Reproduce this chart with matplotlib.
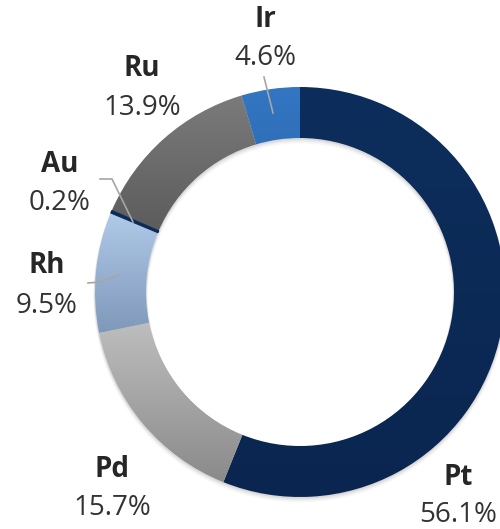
import numpy as np
import matplotlib
matplotlib.use("Agg")
import matplotlib.pyplot as plt
from matplotlib.colors import to_rgb

# ---- data ----
metals = ["Pt", "Pd", "Rh", "Au", "Ru", "Ir"]
shares = [56.1, 15.7, 9.5, 0.2, 13.9, 4.6]
pct_labels = ["56.1%", "15.7%", "9.5%", "0.2%", "13.9%", "4.6%"]

# ---- style ----
grad_top = ["#0d2e5c", "#c8c8c8", "#b0cae9", "#0b2a55", "#7b7b7b", "#3376c2"]
grad_bot = ["#0a2650", "#8a8a8a", "#7f98ba", "#0b2a55", "#4e4e4e", "#2a5ea4"]

W, H = 500, 529
fig = plt.figure(figsize=(W / 100, H / 100), dpi=100)
ax = fig.add_axes([0, 0, 1, 1])
ax.set_xlim(0, W)
ax.set_ylim(0, H)
ax.set_aspect("equal")
ax.axis("off")

cx, cy = 300, H - 292
R, ring = 205, 51

# soft shadow
for k, a in [(6, 0.03), (4, 0.05), (2, 0.07)]:
    ax.pie([1], radius=R + k * 0.3, center=(cx, cy - k * 0.6), colors=["#000000"],
           wedgeprops=dict(width=ring + k * 0.6, alpha=a, linewidth=0))

wedges, _ = ax.pie(shares, radius=R, center=(cx, cy), startangle=90,
                   counterclock=False, colors=grad_top,
                   wedgeprops=dict(width=ring, linewidth=0))

for w, c1, c2 in zip(wedges, grad_top, grad_bot):
    v = w.get_path().vertices
    x0, x1 = v[:, 0].min(), v[:, 0].max()
    y0, y1 = v[:, 1].min(), v[:, 1].max()
    t = np.linspace(0, 1, 256)[:, None]
    a, b = np.array(to_rgb(c1)), np.array(to_rgb(c2))
    img = (b * (1 - t) + a * t)[:, None, :]
    im = ax.imshow(img, extent=[x0 - 1, x1 + 1, y0 - 1, y1 + 1], origin="lower",
                   aspect="auto", interpolation="bilinear", zorder=2)
    im.set_clip_path(w)
    w.set_facecolor("none")

# Au sliver as a thin dark edge line
au = wedges[metals.index("Au")]
au.set_edgecolor("#0b2a55")
au.set_linewidth(0.9)
au.set_zorder(3)

ax.set_xlim(0, W)
ax.set_ylim(0, H)

# ---- labels ----
label_pos = {  # (x center, name baseline, pct baseline) in pixel coords from top
    "Ir": (265, 27, 65),
    "Ru": (142, 76, 115),
    "Au": (60, 172, 210),
    "Rh": (47, 273, 313),
    "Pd": (112, 477, 515),
    "Pt": (458, 485, 522),
}
fam = ["Open Sans", "DejaVu Sans"]
for m, p in zip(metals, pct_labels):
    x, yn, yp = label_pos[m]
    ax.text(x, H - yn, m, ha="center", va="baseline", fontsize=20,
            fontweight="bold", color="#262626", family=fam)
    ax.text(x, H - yp, p, ha="center", va="baseline", fontsize=20,
            color="#333333", family=fam)

# leader lines
leaders = [
    [(264, 77), (273, 113)],
    [(100, 179), (112, 179), (133, 222)],
    [(88, 283), (100, 282), (120, 275)],
]
for pts in leaders:
    xs = [p[0] for p in pts]
    ys = [H - p[1] for p in pts]
    ax.plot(xs, ys, color="#a6a6a6", lw=1.2, zorder=4)

fig.savefig("out.png", dpi=100)
